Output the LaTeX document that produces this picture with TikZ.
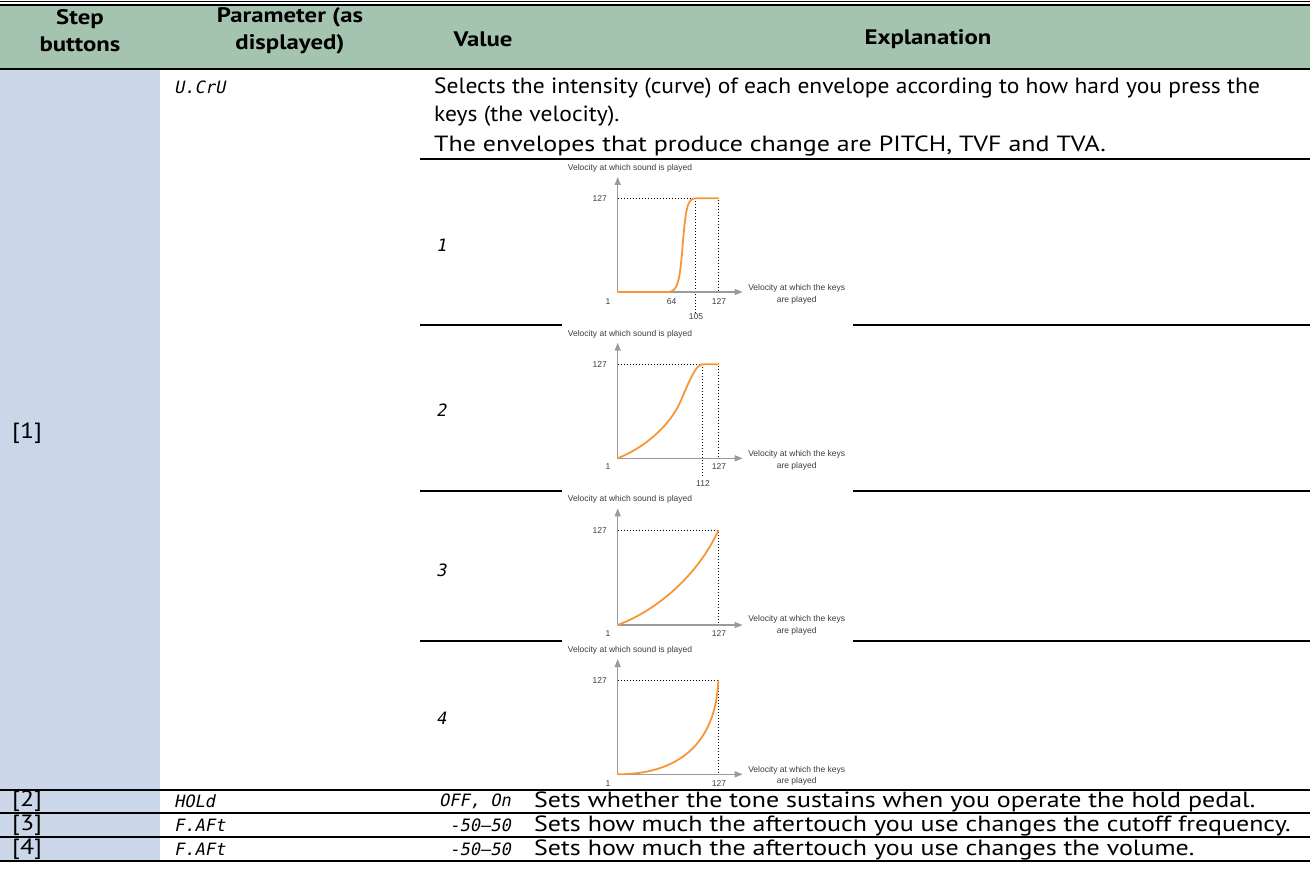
\documentclass[tikz,border=0pt]{standalone}
\usepackage{fontspec}
\setmainfont[FakeStretch=1.18]{PT Sans}
\newfontfamily\tightfont[FakeStretch=1.07]{PT Sans}
\newfontfamily\graphfont{Liberation Sans}
\newfontfamily\segfont[FakeSlant=0.2]{DejaVu Sans Mono}
\usetikzlibrary{arrows.meta}

\definecolor{headgreen}{RGB}{165,196,176}
\definecolor{stepblue}{RGB}{203,215,233}
\definecolor{curveorange}{RGB}{247,150,55}
\definecolor{axisgray}{RGB}{155,155,155}
\definecolor{ticktext}{RGB}{60,60,60}

\tikzset{
  headtext/.style={font=\fontsize{21}{27}\selectfont\bfseries, align=center, inner sep=0pt},
  celltext/.style={font=\fontsize{22}{24}\selectfont\tightfont, inner sep=0pt, anchor=base west},
  rowtext/.style={font=\fontsize{22}{24}\selectfont, inner sep=0pt, anchor=west},
  segtext/.style={font=\fontsize{17}{20}\selectfont\segfont, inner sep=0pt},
  rowline/.style={line width=1.6pt},
  axis/.style={axisgray, line width=1.2pt, -{Triangle[length=8pt,width=6pt]}},
  guide/.style={dotted, line width=1pt},
  curve/.style={curveorange, line width=1.8pt, line cap=round},
  tick/.style={font=\fontsize{8.5}{11.7}\selectfont\graphfont, text=ticktext, inner sep=0pt},
}

\begin{document}
\begin{tikzpicture}[x=1pt, y=-1pt]
  \useasboundingbox (0,0) rectangle (1310,888);

  % header band and step column
  \fill[headgreen] (0,5) rectangle (1310,68);
  \fill[stepblue] (0,70) rectangle (160,861);
  \draw[line width=0.8pt] (0,1) -- (1310,1);
  \draw[line width=1.8pt] (0,5) -- (1310,5);
  \draw[line width=2.2pt] (0,69) -- (1310,69);

  \node[headtext] (hstep) at (80,31) {Step\\buttons};
  \node[headtext] (hparam) at (290,31) {Parameter (as\\displayed)};
  \node[headtext] (hvalue) at (483,39) {Value};
  \node[headtext] (hexpl) at (928,39) {Explanation};

  % rules between the rows
  \draw[rowline] (420,159) -- (1310,159);
  \draw[rowline] (420,325) -- (562,325);
  \draw[rowline] (853,325) -- (1310,325);
  \draw[rowline] (420,491) -- (562,491);
  \draw[rowline] (853,491) -- (1310,491);
  \draw[rowline] (420,641) -- (562,641);
  \draw[rowline] (853,641) -- (1310,641);
  \draw[rowline] (0,790) -- (1310,790);
  \draw[rowline] (0,813) -- (1310,813);
  \draw[rowline] (0,837) -- (1310,837);
  \draw[line width=1.1pt] (0,861) -- (1310,861);

  % row [1]
  \node[rowtext] (step1) at (12,433) {[1]};
  \node[segtext, anchor=west] (par1) at (174,87) {U.CrU};
  \node[celltext] (expl1a) at (434,94) {Selects the intensity (curve) of each envelope according to how hard you press the};
  \node[celltext] (expl1b) at (434,122) {keys (the velocity).};
  \node[celltext, font=\fontsize{22}{24}\selectfont] (expl1c) at (434,152) {The envelopes that produce change are PITCH, TVF and TVA.};

  \node[segtext, anchor=west] (val1) at (436,245) {1};
  \node[segtext, anchor=west] (val2) at (436,410) {2};
  \node[segtext, anchor=west] (val3) at (436,570) {3};
  \node[segtext, anchor=west] (val4) at (436,718) {4};

  % curve 1
  \begin{scope}[shift={(617.7,292)}]
    \coordinate (a1o) at (0,0);
    \coordinate (a1x) at (125,0);
    \coordinate (a1y) at (0,-115);
    \node[tick, anchor=west] (g1title) at (-50,-124) {Velocity at which sound is played};
    \draw[guide] (0,-93.7) -- (100.6,-93.7) -- (100.6,0);
    \draw[guide] (77.3,-93.7) -- (77.3,21);
    \draw[axis] (a1o) -- (a1x);
    \draw[axis] (a1o) -- (a1y);
    \draw[curve] (0,0) -- (50,0) .. controls (60,0) and (62,-10) .. (65,-47) .. controls (68,-85) and (70,-93.7) .. (78,-93.7) -- (100.6,-93.7);
    \node[tick] (g1max) at (-18,-93.7) {127};
    \node[tick] (g1one) at (-9.7,9.7) {1};
    \node[tick] (g1mid) at (54,9.7) {64};
    \node[tick] (g1end) at (101.3,9.7) {127};
    \node[tick] (g1knee) at (78.3,25) {105};
    \node[tick, align=center] (g1xlab) at (179,2.2) {Velocity at which the keys\\are played};
  \end{scope}

  % curve 2
  \begin{scope}[shift={(617.7,458.3)}]
    \coordinate (a2o) at (0,0);
    \coordinate (a2x) at (125,0);
    \coordinate (a2y) at (0,-115.6);
    \node[tick, anchor=west] (g2title) at (-50,-124) {Velocity at which sound is played};
    \draw[guide] (0,-94) -- (100.6,-94) -- (100.6,0);
    \draw[guide] (85,-94) -- (85,18.4);
    \draw[axis] (a2o) -- (a2x);
    \draw[axis] (a2o) -- (a2y);
    \draw[curve] (0,0) .. controls (25,-10) and (50,-30) .. (62,-55) .. controls (72,-78) and (78,-94) .. (85,-94) -- (100.6,-94);
    \node[tick] (g2max) at (-18,-94) {127};
    \node[tick] (g2one) at (-9.7,8.4) {1};
    \node[tick] (g2end) at (101.3,8.4) {127};
    \node[tick] (g2knee) at (85.3,25) {112};
    \node[tick, align=center] (g2xlab) at (179,2.2) {Velocity at which the keys\\are played};
  \end{scope}

  % curve 3
  \begin{scope}[shift={(617.7,625)}]
    \coordinate (a3o) at (0,0);
    \coordinate (a3x) at (125,0);
    \coordinate (a3y) at (0,-116.7);
    \node[tick, anchor=west] (g3title) at (-50,-125.7) {Velocity at which sound is played};
    \draw[guide] (0,-94.3) -- (100.6,-94.3) -- (100.6,0);
    \draw[axis] (a3o) -- (a3x);
    \draw[axis] (a3o) -- (a3y);
    \draw[curve] (0,0) .. controls (40,-15) and (80,-50) .. (100.6,-94.3);
    \node[tick] (g3max) at (-18,-94.3) {127};
    \node[tick] (g3one) at (-9.7,8.3) {1};
    \node[tick] (g3end) at (101.3,8.3) {127};
    \node[tick, align=center] (g3xlab) at (179,0.5) {Velocity at which the keys\\are played};
  \end{scope}

  % curve 4
  \begin{scope}[shift={(617.7,774.3)}]
    \coordinate (a4o) at (0,0);
    \coordinate (a4x) at (125,0);
    \coordinate (a4y) at (0,-115.3);
    \node[tick, anchor=west] (g4title) at (-50,-124.3) {Velocity at which sound is played};
    \draw[guide] (0,-93.6) -- (100.6,-93.6) -- (100.6,0);
    \draw[axis] (a4o) -- (a4x);
    \draw[axis] (a4o) -- (a4y);
    \draw[curve] (0,0) .. controls (60,0) and (98,-30) .. (100.6,-93.6);
    \node[tick] (g4max) at (-18,-93.6) {127};
    \node[tick] (g4one) at (-9.7,9) {1};
    \node[tick] (g4end) at (101.3,9) {127};
    \node[tick, align=center] (g4xlab) at (179,1.6) {Velocity at which the keys\\are played};
  \end{scope}

  % rows [2] to [4]
  \node[rowtext] (step2) at (12,801.5) {[2]};
  \node[segtext, anchor=west] (par2) at (174,801.5) {HOLd};
  \node[segtext, anchor=east] (val5) at (511,801.5) {OFF, On};
  \node[rowtext] (expl2) at (534,801.5) {Sets whether the tone sustains when you operate the hold pedal.};

  \node[rowtext] (step3) at (12,825.5) {[3]};
  \node[segtext, anchor=west] (par3) at (174,825.5) {F.AFt};
  \node[segtext, anchor=east] (val6) at (511,825.5) {-50–50};
  \node[rowtext] (expl3) at (534,825.5) {Sets how much the aftertouch you use changes the cutoff frequency.};

  \node[rowtext] (step4) at (12,849.5) {[4]};
  \node[segtext, anchor=west] (par4) at (174,849.5) {F.AFt};
  \node[segtext, anchor=east] (val7) at (511,849.5) {-50–50};
  \node[rowtext] (expl4) at (534,849.5) {Sets how much the aftertouch you use changes the volume.};
\end{tikzpicture}
\end{document}
